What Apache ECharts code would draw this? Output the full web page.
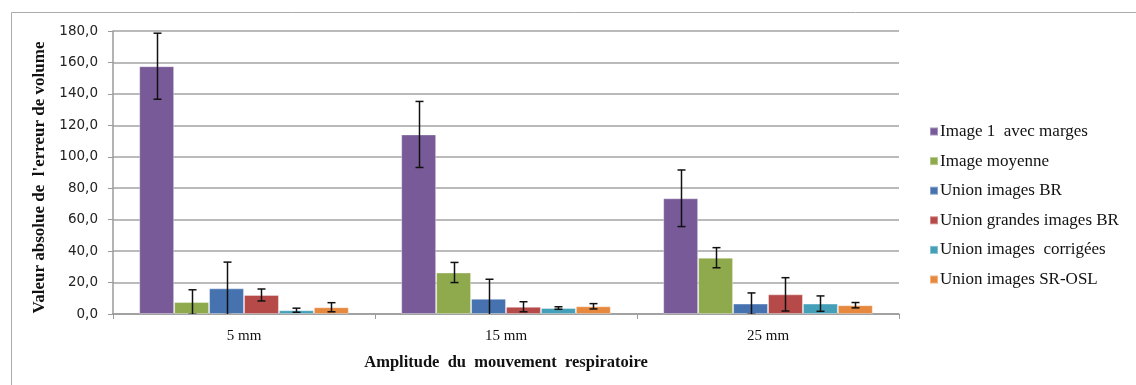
<!DOCTYPE html>
<html>
<head>
<meta charset="utf-8">
<script src="https://cdn.jsdelivr.net/npm/echarts@6/dist/echarts.min.js"></script>
<style>
  html, body { margin: 0; padding: 0; background: #fff; }
  #chart { width: 1136px; height: 385px; }
</style>
</head>
<body>
<div id="chart"></div>
<script>
// Respiratory motion amplitude groups
const categories = ['5 mm', '15 mm', '25 mm'];

// Series names (legend order)
const seriesNames = [
  'Image 1  avec marges',
  'Image moyenne',
  'Union images BR',
  'Union grandes images BR',
  'Union images  corrigées',
  'Union images SR-OSL'
];

// Mean absolute volume error per group
const image1Values   = [157.6, 114.2, 73.6];
const moyenneValues  = [7.6, 26.4, 35.8];
const unionBRValues  = [16.3, 9.7, 6.6];
const grandesValues  = [12.1, 4.6, 12.5];
const corrigeValues  = [2.4, 3.8, 6.6];
const srOslValues    = [4.3, 4.9, 5.6];

// Standard deviations (error bars)
const image1Err  = [21.0, 21.0, 18.0];
const moyenneErr = [7.8, 6.4, 6.4];
const unionBRErr = [16.7, 12.4, 6.8];
const grandesErr = [3.8, 3.2, 10.6];
const corrigeErr = [1.3, 0.8, 4.9];
const srOslErr   = [2.9, 1.7, 1.7];

// Y axis ticks
const yMin = 0, yMax = 180, yStep = 20;

const allValues = [image1Values, moyenneValues, unionBRValues, grandesValues, corrigeValues, srOslValues];
const allErrors = [image1Err, moyenneErr, unionBRErr, grandesErr, corrigeErr, srOslErr];
const colors = ['#775A97', '#8EAA4D', '#4673B0', '#B54A48', '#44A0B9', '#E6893E'];

const CAT_GAP = 0.2;
const serif = '"Liberation Serif", "Times New Roman", serif';

const barSeries = seriesNames.map((name, i) => ({
  name: name,
  type: 'bar',
  data: allValues[i],
  barGap: '0%',
  barCategoryGap: (CAT_GAP * 100) + '%',
  itemStyle: { color: colors[i], borderColor: 'rgba(255,255,255,0.35)', borderWidth: 1 },
  emphasis: { disabled: true }
}));

// One entry per bar: [category index, series index, value, error]
const errorData = [];
allValues.forEach((vals, s) => {
  vals.forEach((v, c) => errorData.push([c, s, v, allErrors[s][c]]));
});

const errorSeries = {
  type: 'custom',
  name: 'errors',
  clip: true,
  z: 5,
  data: errorData,
  encode: { x: 0, y: 2 },
  renderItem: function (params, api) {
    const c = api.value(0), s = api.value(1), v = api.value(2), e = api.value(3);
    const band = api.size([1, 0])[0];
    const usable = band * (1 - CAT_GAP);
    const bw = usable / seriesNames.length;
    const center = api.coord([c, 0])[0];
    const x = Math.round(center - usable / 2 + bw * (s + 0.5)) + 0.5;
    const yTop = api.coord([c, v + e])[1];
    const yBot = api.coord([c, v - e])[1];
    const cap = 4;
    const style = { stroke: '#111', lineWidth: 1.5 };
    return {
      type: 'group',
      children: [
        { type: 'line', shape: { x1: x, y1: yTop, x2: x, y2: yBot }, style: style },
        { type: 'line', shape: { x1: x - cap, y1: yTop, x2: x + cap, y2: yTop }, style: style },
        { type: 'line', shape: { x1: x - cap, y1: yBot, x2: x + cap, y2: yBot }, style: style }
      ]
    };
  }
};

const chart = echarts.init(document.getElementById('chart'), null, { renderer: 'canvas' });
chart.setOption({
  animation: false,
  backgroundColor: '#fff',
  graphic: [{
    type: 'rect',
    shape: { x: 11.5, y: 12.5, width: 1200, height: 400 },
    style: { fill: 'none', stroke: '#ABABAB', lineWidth: 1 },
    silent: true
  }],
  grid: { left: 113, right: 237, top: 31, bottom: 71 },
  legend: {
    data: seriesNames,
    orient: 'vertical',
    left: 924,
    top: 118,
    itemWidth: 8,
    itemHeight: 8,
    itemGap: 12.6,
    icon: 'rect',
    textStyle: { fontFamily: serif, fontSize: 17, color: '#111', padding: [0, 0, 0, -3] },
    selectedMode: false
  },
  xAxis: {
    type: 'category',
    data: categories,
    name: 'Amplitude  du  mouvement  respiratoire',
    nameLocation: 'middle',
    nameGap: 40,
    nameTextStyle: { fontFamily: serif, fontSize: 16.5, fontWeight: 'bold', color: '#111' },
    axisLine: { lineStyle: { color: '#9A9A9A', width: 1.5 } },
    axisTick: { show: true, length: 5, lineStyle: { color: '#9A9A9A', width: 1 } },
    axisLabel: { fontFamily: serif, fontSize: 15, color: '#111', margin: 15 }
  },
  yAxis: {
    type: 'value',
    min: yMin,
    max: yMax,
    interval: yStep,
    name: "Valeur absolue de  l'erreur de volume",
    nameLocation: 'middle',
    nameGap: 61,
    nameTextStyle: { fontFamily: serif, fontSize: 17, fontWeight: 'bold', color: '#111', padding: [0, 10, 0, 0] },
    axisLine: { show: true, lineStyle: { color: '#9A9A9A', width: 1.5 } },
    axisTick: { show: true, length: 5, lineStyle: { color: '#9A9A9A', width: 1 } },
    axisLabel: {
      fontFamily: '"DejaVu Sans", sans-serif',
      fontSize: 13.5,
      color: '#222',
      margin: 15,
      formatter: v => v.toFixed(1).replace('.', ',')
    },
    splitLine: { lineStyle: { color: '#A3A3A3', width: 1.5 } }
  },
  series: barSeries.concat([errorSeries])
});
</script>
</body>
</html>
